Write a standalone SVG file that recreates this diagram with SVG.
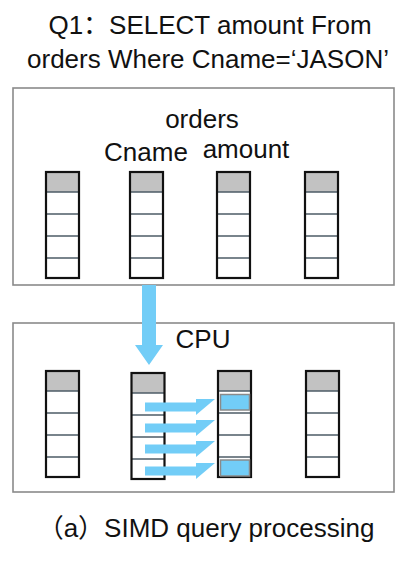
<svg xmlns="http://www.w3.org/2000/svg" width="411" height="561" viewBox="0 0 411 561">
<style>
text{font-family:"Liberation Sans","Noto Sans CJK SC",sans-serif;fill:#111;font-size:26px}
.box{fill:#fff;stroke:#8a8a8a;stroke-width:1.6}
.hdr{fill:#c2c2c2}
.cell{fill:#fff}
.div{stroke:#4d5b66;stroke-width:1.6}
.out{fill:none;stroke:#111;stroke-width:2.2}
.blue{fill:#72cdf7}
.hl{fill:#72cdf7;stroke:#8a8a8a;stroke-width:1.5}
</style>
<defs>
<g id="col">
<rect x="0" y="0" width="33" height="106" class="cell"/>
<rect x="0" y="0" width="33" height="20" class="hdr"/>
<line x1="0" y1="20" x2="33" y2="20" class="div"/>
<line x1="0" y1="42" x2="33" y2="42" class="div"/>
<line x1="0" y1="64" x2="33" y2="64" class="div"/>
<line x1="0" y1="86" x2="33" y2="86" class="div"/>
<rect x="0" y="0" width="33" height="106" class="out"/>
</g>
<path id="harr" d="M0,-4.5 H51 V-8 H70 L51,8 V4.5 H0 Z" class="blue"/>
</defs>
<rect width="411" height="561" fill="#fff"/>
<g id="title">
<text x="210" y="34" text-anchor="middle">Q1：SELECT amount From</text>
<text x="208" y="68" text-anchor="middle">orders Where Cname=‘JASON’</text>
</g>
<g id="orders">
<rect x="13" y="88" width="381" height="197" class="box"/>
<text x="202" y="128" text-anchor="middle">orders</text>
<text x="146" y="161" text-anchor="middle">Cname</text>
<text x="246" y="158" text-anchor="middle">amount</text>
<use href="#col" x="46" y="172"/>
<use href="#col" x="130" y="172"/>
<use href="#col" x="217" y="172"/>
<use href="#col" x="305" y="172"/>
</g>
<g id="cpu">
<rect x="13" y="323" width="381" height="169" class="box"/>
<text x="203" y="348" text-anchor="middle">CPU</text>
<use href="#col" x="46" y="371"/>
<use href="#col" x="131.5" y="373"/>
<use href="#col" x="218" y="371"/>
<use href="#col" x="306" y="371"/>
<rect x="220.5" y="394.5" width="29" height="15.5" class="hl"/>
<rect x="220.5" y="460" width="29" height="16" class="hl"/>
</g>
<g id="connectors">
<path d="M142,285 H156 V345 H163 L149,365 L135,345 H142 Z" class="blue"/>
<use href="#harr" x="145" y="407"/>
<use href="#harr" x="145" y="428"/>
<use href="#harr" x="145" y="449"/>
<use href="#harr" x="145" y="471"/>
</g>
<g id="caption">
<text x="206" y="537" text-anchor="middle">（a）SIMD query processing</text>
</g>
</svg>
